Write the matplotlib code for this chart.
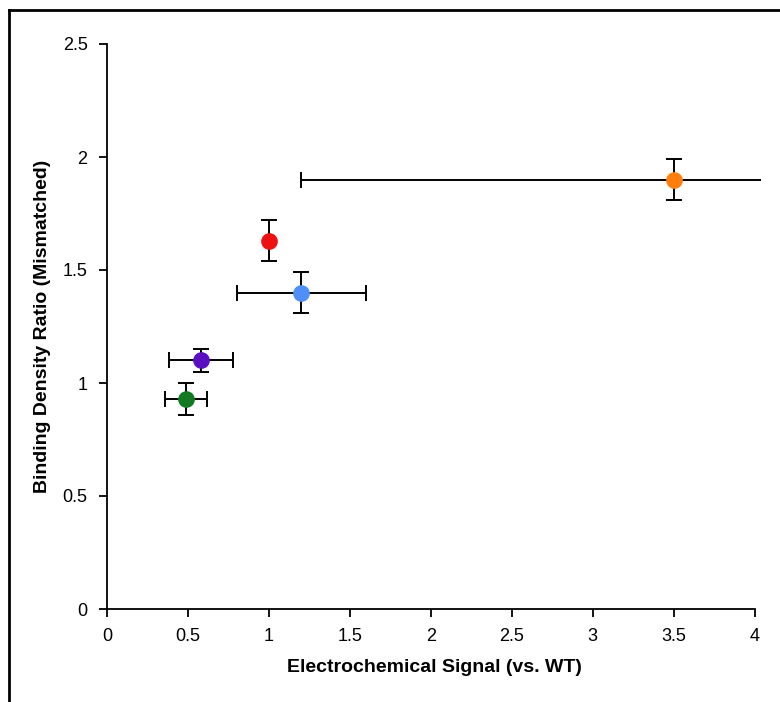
import matplotlib
matplotlib.use("Agg")
import matplotlib.pyplot as plt
from matplotlib.lines import Line2D

plt.rcParams["font.family"] = ["Liberation Sans", "DejaVu Sans"]

# -------------------
# Data
# -------------------
signal = [3.5, 1.0, 1.2, 0.58, 0.49]
signal_err = [2.3, 0.0, 0.4, 0.2, 0.13]
density = [1.90, 1.63, 1.40, 1.10, 0.93]
density_err = [0.09, 0.09, 0.09, 0.05, 0.07]
colors = ["#ff7f0e", "#ee1111", "#4f8ff7", "#5a10c0", "#127a22"]

x_ticks = [0, 0.5, 1, 1.5, 2, 2.5, 3, 3.5, 4]
y_ticks = [0, 0.5, 1, 1.5, 2, 2.5]

# -------------------
# Plot
# -------------------
fig = plt.figure(figsize=(7.8, 7.02), dpi=100)
ax = fig.add_axes([107 / 780, 93 / 702, 654 / 780, 565 / 702])

for x, xe, y, ye, c in zip(signal, signal_err, density, density_err, colors):
    ax.errorbar(x, y, xerr=xe if xe > 0 else None, yerr=ye,
                fmt="none", ecolor="black", elinewidth=1.4,
                capsize=6, capthick=1.4, zorder=2)
    ax.plot(x, y, "o", color=c, markersize=11, zorder=3)

ax.set_xlim(0, 4.04)
ax.set_ylim(0, 2.5)
ax.set_xticks(x_ticks)
ax.set_xticklabels([f"{t:g}" for t in x_ticks])
ax.set_yticks(y_ticks)
ax.set_yticklabels([f"{t:g}" for t in y_ticks])

for side in ["top", "right"]:
    ax.spines[side].set_visible(False)
ax.spines["bottom"].set_bounds(0, 4)
for side in ["left", "bottom"]:
    ax.spines[side].set_linewidth(1.3)

ax.tick_params(direction="out", length=6, width=1.3, labelsize=13, pad=8)
ax.set_xlabel("Electrochemical Signal (vs. WT)", fontsize=14, fontweight="bold", labelpad=10)
ax.set_ylabel("Binding Density Ratio (Mismatched)", fontsize=14, fontweight="bold", labelpad=8)

# outer frame (top and left edges visible in the reference)
fig.add_artist(Line2D([9 / 780, 1.0], [1 - 10 / 702, 1 - 10 / 702], color="black", lw=2))
fig.add_artist(Line2D([9 / 780, 9 / 780], [0, 1 - 10 / 702], color="black", lw=2))

fig.savefig("out.png", dpi=100)
